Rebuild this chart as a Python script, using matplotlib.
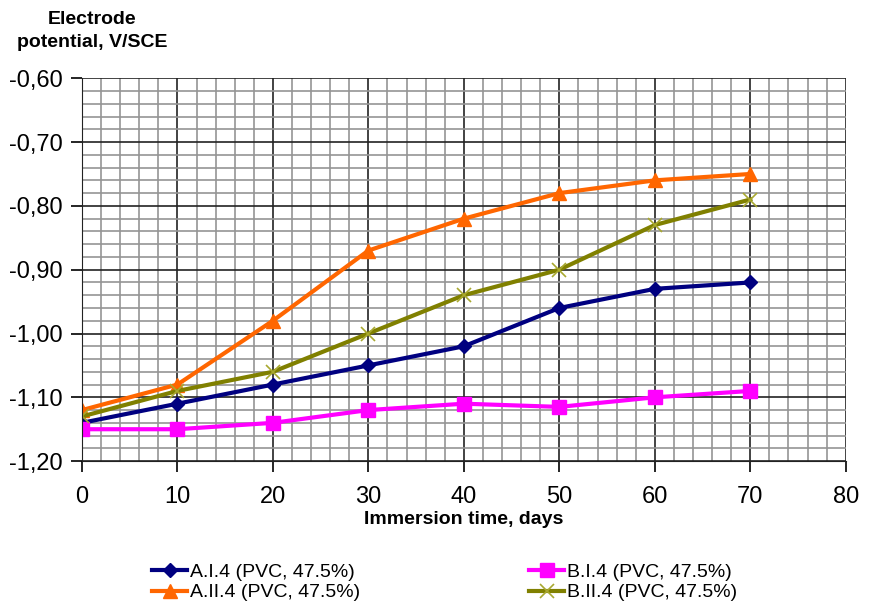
import matplotlib.pyplot as plt
from matplotlib.ticker import MultipleLocator, FuncFormatter

days = [0, 10, 20, 30, 40, 50, 60, 70]
a_i_4 = [-1.14, -1.11, -1.08, -1.05, -1.02, -0.96, -0.93, -0.92]
b_i_4 = [-1.15, -1.15, -1.14, -1.12, -1.11, -1.115, -1.10, -1.09]
a_ii_4 = [-1.12, -1.08, -0.98, -0.87, -0.82, -0.78, -0.76, -0.75]
b_ii_4 = [-1.13, -1.09, -1.06, -1.00, -0.94, -0.90, -0.83, -0.79]
labels = ["A.I.4 (PVC, 47.5%)", "B.I.4 (PVC, 47.5%)",
          "A.II.4 (PVC, 47.5%)", "B.II.4 (PVC, 47.5%)"]

plt.rcParams['font.family'] = ['Liberation Sans', 'DejaVu Sans']

fig = plt.figure(figsize=(8.81, 6.02), dpi=100)
ax = fig.add_axes([0.093, 0.234, 0.867, 0.636])

l1, = ax.plot(days, a_i_4, color="#000080", linewidth=3, marker="D", markersize=7, label=labels[0])
l2, = ax.plot(days, b_i_4, color="#FF00FF", linewidth=3, marker="s", markersize=10, label=labels[1])
l3, = ax.plot(days, a_ii_4, color="#FF6600", linewidth=3, marker="^", markersize=10, label=labels[2])
l4, = ax.plot(days, b_ii_4, color="#808000", linewidth=3, marker="x", markersize=10,
              markeredgewidth=1.2, markeredgecolor="#A8A830", label=labels[3])

ax.set_xlim(0, 80)
ax.set_ylim(-1.20, -0.60)
ax.xaxis.set_major_locator(MultipleLocator(10))
ax.xaxis.set_minor_locator(MultipleLocator(2))
ax.yaxis.set_major_locator(MultipleLocator(0.1))
ax.yaxis.set_minor_locator(MultipleLocator(0.02))
ax.yaxis.set_major_formatter(FuncFormatter(lambda v, p: f"{v:.2f}".replace(".", ",")))
ax.grid(True, which="minor", color="#959595", linewidth=1.2)
ax.grid(True, which="major", color="#222222", linewidth=1.2)
ax.set_axisbelow(True)
for s in ["top", "right"]:
    ax.spines[s].set_visible(False)
ax.spines["left"].set_color("#222222")
ax.spines["bottom"].set_color("#222222")
ax.tick_params(which="major", direction="out", length=8, width=1.2, labelsize=17, pad=6)
ax.tick_params(which="minor", length=0)
ax.tick_params(axis="x", pad=10)

ax.set_xlabel("Immersion time, days", fontsize=14, fontweight="bold", labelpad=2)
fig.text(0.105, 0.948, "Electrode\npotential, V/SCE", fontsize=14, fontweight="bold",
         ha="center", va="center", linespacing=1.45)

# ncol fills column-first, so reorder to get A.I / B.I on the first row
fig.legend(handles=[l1, l3, l2, l4], loc="lower center", ncol=2, frameon=False,
           bbox_to_anchor=(0.505, -0.028), columnspacing=8.7,
           handlelength=1.8, handletextpad=0.15, labelspacing=0.15,
           prop={"size": 14})

fig.savefig("out.png", dpi=100)
